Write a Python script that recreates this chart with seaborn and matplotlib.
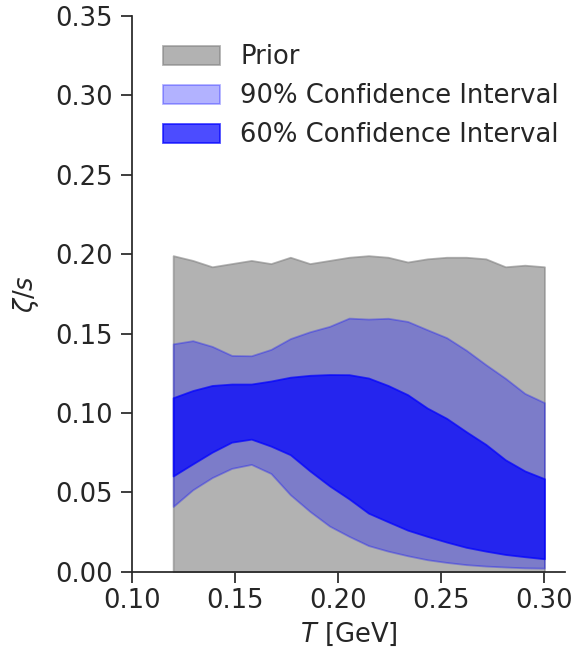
import numpy as np
import matplotlib
matplotlib.use("Agg")
import matplotlib.pyplot as plt
import seaborn as sns

# Temperature grid [GeV]
temperature = [0.1200, 0.1295, 0.1389, 0.1484, 0.1579, 0.1674, 0.1768, 0.1863,
               0.1958, 0.2053, 0.2147, 0.2242, 0.2337, 0.2432, 0.2526, 0.2621,
               0.2716, 0.2811, 0.2905, 0.3000]

# Upper edge of the prior band (lower edge is zero)
prior_top = [0.199, 0.196, 0.192, 0.194, 0.196, 0.194, 0.198, 0.194, 0.196, 0.198,
             0.199, 0.198, 0.195, 0.197, 0.198, 0.198, 0.197, 0.192, 0.193, 0.192]
prior_bottom = [0.0] * len(temperature)

# 90% credible band of zeta/s
ci90_high = [0.1435, 0.1455, 0.1419, 0.1362, 0.1360, 0.1400, 0.1468, 0.1511,
             0.1545, 0.1597, 0.1591, 0.1596, 0.1576, 0.1524, 0.1474, 0.1395,
             0.1304, 0.1218, 0.1123, 0.1065]
ci90_low = [0.0411, 0.0516, 0.0593, 0.0651, 0.0676, 0.0619, 0.0485, 0.0380,
            0.0288, 0.0223, 0.0165, 0.0130, 0.0101, 0.0076, 0.0059, 0.0045,
            0.0036, 0.0030, 0.0025, 0.0023]

# 60% credible band of zeta/s
ci60_high = [0.1096, 0.1141, 0.1173, 0.1182, 0.1182, 0.1201, 0.1225, 0.1237,
             0.1242, 0.1241, 0.1220, 0.1173, 0.1115, 0.1031, 0.0966, 0.0882,
             0.0802, 0.0705, 0.0635, 0.0586]
ci60_low = [0.0603, 0.0679, 0.0753, 0.0816, 0.0835, 0.0791, 0.0737, 0.0635,
            0.0541, 0.0459, 0.0369, 0.0315, 0.0262, 0.0223, 0.0187, 0.0154,
            0.0130, 0.0109, 0.0095, 0.0082]

band_labels = ["Prior", "90% Confidence Interval", "60% Confidence Interval"]
x_ticks = [0.10, 0.15, 0.20, 0.25, 0.30]
y_ticks = [0.00, 0.05, 0.10, 0.15, 0.20, 0.25, 0.30, 0.35]

sns.set_theme(style="ticks")
plt.rcParams["font.family"] = ["DejaVu Sans"]
plt.rcParams["mathtext.fontset"] = "dejavusans"

FS = 18.6
TEXT = "#262626"

fig = plt.figure(figsize=(5.76, 6.58), dpi=100)
ax = fig.add_axes([0.229, 0.131, 0.752, 0.845])

ax.fill_between(temperature, prior_bottom, prior_top, color="gray", alpha=0.6,
                linewidth=1.3, label=band_labels[0])
ax.fill_between(temperature, ci90_low, ci90_high, color="blue", alpha=0.3,
                linewidth=1.3, label=band_labels[1])
ax.fill_between(temperature, ci60_low, ci60_high, color="blue", alpha=0.7,
                linewidth=1.3, label=band_labels[2])

ax.set_xlim(0.10, 0.31)
ax.set_ylim(0.0, 0.35)
ax.set_xticks(x_ticks)
ax.set_yticks(y_ticks)
ax.set_xticklabels([f"{v:.2f}" for v in x_ticks])
ax.set_yticklabels([f"{v:.2f}" for v in y_ticks])
ax.tick_params(axis="both", labelsize=FS, length=8, width=1.25, color=TEXT,
               labelcolor=TEXT)
ax.tick_params(axis="y", pad=6)
ax.set_xlabel("$T$ [GeV]", fontsize=FS, color=TEXT, labelpad=5)
ax.set_ylabel(r"$\zeta/s$", fontsize=FS, color=TEXT, labelpad=10)

sns.despine(ax=ax)

ax.legend(loc="upper left", bbox_to_anchor=(0.048, 0.967), frameon=False,
          fontsize=FS, handlelength=2.2, handleheight=0.75, handletextpad=0.78,
          labelspacing=0.5, borderaxespad=0.0, labelcolor=TEXT)

fig.savefig("out.png", dpi=100)
